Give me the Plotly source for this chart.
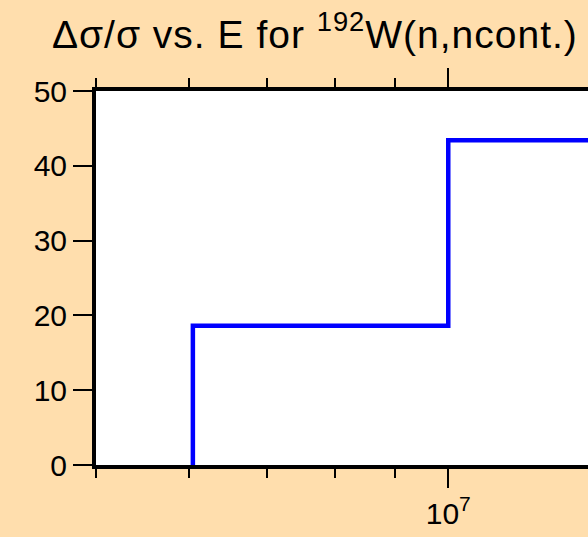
import plotly.graph_objects as go
import math

# Data
energy = [6.05e6, 6.05e6, 1.0e7, 2.0e7]      # eV
rel_unc = [0.0, 18.6, 43.4, 43.4]            # percent (Δσ/σ)

x_major_vals = [1e7]
x_major_text = ["10<sup>7</sup>"]
x_minor_vals = [5e6, 6e6, 7e6, 8e6, 9e6]
y_ticks = [0, 10, 20, 30, 40, 50]

FONT = "Arial, Liberation Sans, sans-serif"
BG = "#FFDEAD"

fig = go.Figure()
fig.add_trace(go.Scatter(
    x=energy, y=rel_unc, mode="lines",
    line=dict(color="#0000ff", width=4.5, shape="hv"),
    showlegend=False, hoverinfo="skip",
))

x0 = math.log10(5e6)
fig.update_layout(
    width=588, height=537,
    margin=dict(l=96, r=0, t=91, b=72),
    paper_bgcolor=BG, plot_bgcolor="white",
    font=dict(family=FONT, color="black", size=30),
    title=dict(
        text='<span style="letter-spacing:1px">Δσ/σ vs. E for <sup>192</sup>W(n,ncont.)</span>',
        x=52/588, xanchor="left", xref="container",
        y=1-34/537, yanchor="middle",
        font=dict(family=FONT, size=39, color="black"),
    ),
    xaxis=dict(
        type="log",
        range=[x0, x0 + 491.5/1169],
        showline=True, linecolor="black", linewidth=4,
        mirror="ticks",
        ticks="outside", ticklen=19, tickwidth=2, tickcolor="black",
        tickmode="array", tickvals=x_major_vals, ticktext=x_major_text,
        tickfont=dict(family=FONT, size=30, color="black"),
        minor=dict(tickmode="array", tickvals=x_minor_vals, ticks="outside",
                   ticklen=9, tickwidth=2, tickcolor="black"),
        showgrid=False, zeroline=False,
    ),
    yaxis=dict(
        range=[0, 50],
        showline=True, linecolor="black", linewidth=4,
        mirror=False,
        ticks="outside", ticklen=19, tickwidth=2, tickcolor="black",
        tickmode="array", tickvals=y_ticks,
        tickfont=dict(family=FONT, size=30, color="black"),
        showgrid=False, zeroline=False,
    ),
)

fig.write_html("out.html", config={"displayModeBar": False},
               post_script="document.body.style.margin='0px';")
